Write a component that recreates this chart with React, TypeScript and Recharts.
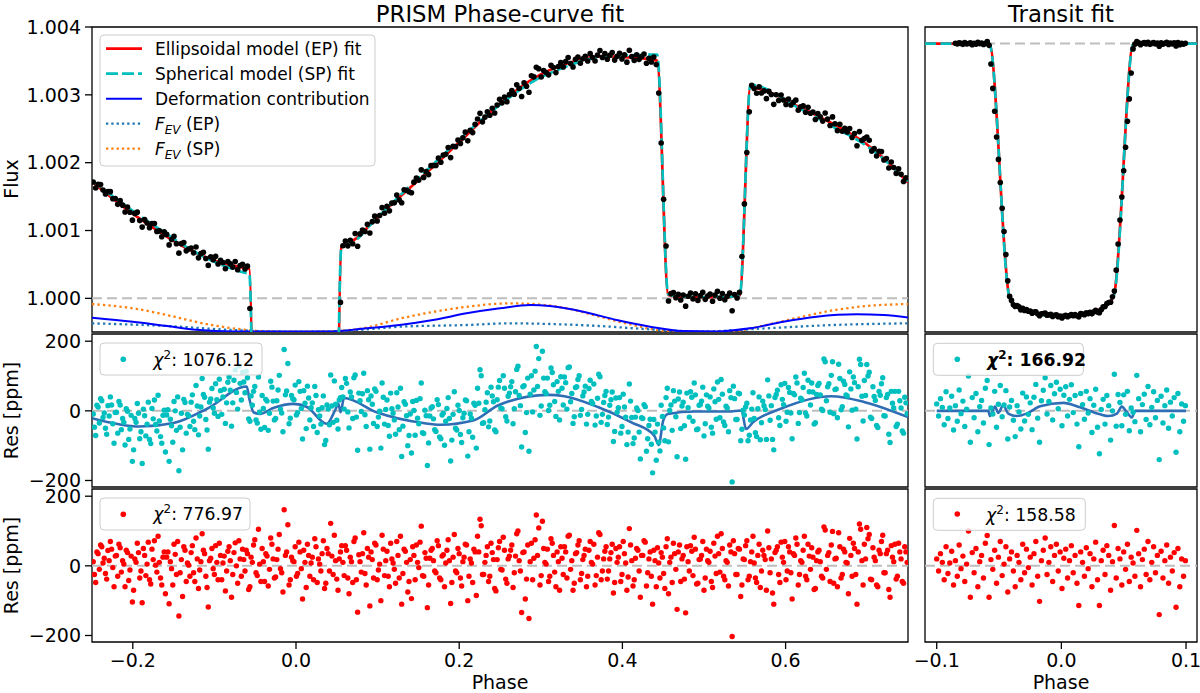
import React from 'react';
import { ComposedChart, Line, Scatter, XAxis, YAxis, ReferenceLine, ReferenceArea } from 'recharts';

const FONT = '"DejaVu Sans", "Liberation Sans", sans-serif';

// ---------- sampling cadence (phase) ----------
const PC_RES_START_A = -0.2485;
const PC_RES_START_B = -0.247;
const PC_RES_STEP = 0.003;
const PC_FLUX_START_A = -0.2485;
const PC_FLUX_START_B = -0.2455;
const PC_FLUX_STEP = 0.006;
const TR_START = -0.1;
const TR_STEP = 0.0015;
const TR_FLUX_START = -0.1 + 10 * 0.0015;

// ---------- axis ticks ----------
const PC_X_TICKS = [-0.2, 0, 0.2, 0.4, 0.6];
const TR_X_TICKS = [-0.1, 0, 0.1];
const FLUX_TICKS = [1.0, 1.001, 1.002, 1.003, 1.004];
const RES_TICKS = [-200, 0, 200];

// ---------- phase-curve residuals, EP fit (ppm) ----------
const RES_EP_PC_A = [
  12, -48, 35, 60, 8, -22, 44, 70, -5, 28,
  -30, 52, 15, -60, 38, -12, -104, 20, 65, -35,
  -106, 30, 5, -40, 48, 72, -18, 10, -55, 40,
  25, -109, -8, 62, -25, -144, 18, 55, -45, 2,
  38, -20, 80, -65, 12, 45, -30, -118, 22, -8,
  58, -40, 30, 8, -72, 42, 15, -25, 66, -50,
  20, 48, -15, 35, -60, 10, 75, -28, 5, 50,
  -45, 28, -10, 62, -35, 18, 90, -20, 161, 40,
  -55, 25, 12, -30, 68, -8, 45, -62, 30, 8,
  -40, 55, 20, -15, 72, -50, 35, 122, -25, 15,
  -70, 40, 10, 58, -35, 25, -48, 80, -133, 12,
  35, -22, 50, -115, 18, 65, -40, 5, 88, -28,
  42, -60, 20, -10, 70, -35, -110, 48, 10, -45,
  -94, 30, 60, -5, 114, -30, 22, -55, 45, 15,
  -20, 58, -40, 32, 8, 75, -108, 25, -15, 50,
  -35, 12, 62, -100, 20, -48, 40, 85, 134, -25,
  10, 55, -30, 38, -65, 18, 70, -12, 45, -50,
  28, 60, -20, 92, 15, -134, 40, -38, -151, 65,
  22, 146, 109, -28, 50, 5, -45, 78, 30, -60,
  12, 55, -25, 40, 85, -10, -70, 35, 60, -40,
  18, 48, -30, 70, 5, -55, 25, 90, -15, 42,
  -38, 20, 62, -48, 10, 55, -25, 35, -70, 107,
  15, -40, 50, -15, 30, 72, -58, 20, -30, 45,
  -60, 8, 38, -22, 55, -80, 25, 65, -10, 40,
  -45, 30, -135, 12, 58, -28, 48, -50, 20, 70,
  -35, 15, 42, -62, 28, 85, -18, 50, -40, 10,
  60, -203, 35, -25, 48, -55, 18, 72, -30, 40,
  8, -48, 62, -15, 30, -70, 52, 20, -110, 45,
  -25, 68, 10, -40, 55, -20, 35, 80, -55, 15,
  45, -30, 62, -10, 25, -65, 40, 12, -35, 103,
  30, -45, 99, 20, -60, 55, -25, 40, 8, 79,
  -30, 50, -110, 120, 15, 62, 110, 90, -40, 25,
  -55, 45, 70, -20, 35, -68, 58, 12, -38, 65,
  20, -50, 40,
];
const RES_EP_PC_B = [
  -25, 40, -10, 55, 22, -38, 15, 48, -60, 30,
  62, -18, 5, 45, -42, 28, -70, 10, 38, -15,
  50, -28, 68, -52, 18, 2, 85, -35, 25, -80,
  40, 12, -55, 33, 70, -20, -88, 45, 8, -30,
  58, -45, 20, -12, 92, 35, -62, 15, 50, -25,
  10, 65, -40, 28, -15, 55, -90, 38, 0, 72,
  -30, 18, 45, -68, 25, 60, -20, 105, -45, 12,
  35, -58, 80, 20, -32, 48, -8, -75, 30, 118,
  -40, 15, 55, -22, 40, -95, 10, 62, -30, 25,
  78, -48, 5, 35, -65, 50, -15, 28, 88, -38,
  20, 58, -28, 45, -80, 12, 70, -40, 32, -18,
  95, -55, 25, 40, -35, 60, -12, -100, 48, 15,
  -30, 65, 8, -50, 30, 85, -22, 42, -75, 18,
  55, -40, 10, 68, -28, 38, -120, 22, 50, -15,
  72, -35, 28, -60, 45, 15, -48, 90, -20, 35,
  -58, 25, 60, -30, 8, 48, -85, 40, 115, -25,
  30, -45, 65, 18, -72, 52, -10, 82, -38, 20,
  45, -62, 28, 100, -15, 38, -95, 60, 12, -40,
  75, 30, -55, 128, 10, 48, -30, 65, -18, 40,
  -70, 22, 55, -35, 88, 15, -50, 38, 72, -22,
  30, -60, 45, 10, 62, -28, 95, -40, 20, 55,
  -15, 38, -78, 50, 25, -45, 70, 8, -32, 60,
  -58, 22, 45, -90, 30, 68, -20, 40, -110, 15,
  52, -35, 25, -65, 78, 10, -48, 35, -125, 60,
  20, -38, 55, -15, 42, 82, -52, 18, 30, -70,
  48, 10, -45, 65, -22, 35, 92, -30, 15, -58,
  40, 72, -25, 50, -88, 20, 58, -40, 12, 85,
  -35, 30, -62, 45, 18, 100, -20, -78, 38, 55,
  -48, 25, 70, -15, 40, -95, 30, 62, -25, 10,
  85, -40, 28, 52, -68, 15, 45, -30, 112, -10,
  38, 60, -50, 22, 95, -35, 48, 10, -80, 30,
  65, -25, 40, 105, -55, 20, 78, -38, 52, 15,
  -60, 35, 88, -20, 45, -90, 25, 62, -30, 40,
  -45, 55, 10,
];

// ---------- phase-curve residuals, SP fit (ppm) ----------
const RES_SP_PC_A = [
  -9, -71, 11, 35, -19, -50, 15, 40, -37, -5,
  -64, 17, -22, -98, -1, -52, -145, -22, 21, -80,
  -151, -14, -38, -82, 7, 31, -58, -29, -93, 2,
  -12, -145, -43, 27, -56, -172, -7, 33, -64, -14,
  25, -30, 73, -69, 11, 47, -25, -110, 34, 8,
  78, -16, 58, 40, -36, 82, 59, 23, 117, 5,
  79, 111, 52, 95, -30, 16, 70, -35, -4, 44,
  -48, 28, -7, 68, -26, 29, 102, -6, 176, 57,
  -37, 44, 32, -12, 84, 7, 58, -51, 37, 9,
  -45, 44, 3, -38, 43, -85, 5, 103, -33, 19,
  -52, 38, 40, 93, -3, 54, -22, 103, -113, 29,
  49, -11, 58, -110, 19, 63, -45, -1, 80, -38,
  31, -73, 6, -26, 52, -54, -131, 26, -14, -71,
  -121, 1, 30, -37, 80, -65, -14, -92, 8, -23,
  -59, 18, -80, -7, -30, 38, -144, -10, -50, 16,
  -68, -20, 31, -130, -9, -76, 16, 65, 118, -36,
  3, 52, -29, 43, -55, 32, 87, 6, 65, -29,
  51, 84, 6, 119, 44, -104, 72, -5, -116, 101,
  60, 185, 150, 14, 94, 50, 1, 123, 75, -16,
  56, 98, 17, 81, 124, 26, -36, 67, 90, -13,
  43, 71, -10, 88, 21, -41, 36, 98, -10, 44,
  -39, 16, 54, -59, -4, 38, -45, 11, -97, 77,
  -19, -78, 8, -61, -20, 18, -116, -42, -96, -25,
  -142, -90, 16, -49, 38, -89, 17, 58, -17, 34,
  -51, 25, -139, 9, 55, -30, 46, -52, 18, 68,
  -37, 13, 40, -64, 26, 83, -20, 48, -42, 8,
  58, -204, 35, -25, 49, -53, -12, 22, -70, 5,
  -22, -74, 40, -34, 15, -82, 43, 15, -112, 47,
  -20, 75, 18, -30, 67, -6, 50, 97, -36, 36,
  67, -6, 88, 17, 54, -34, 73, 46, 1, 141,
  69, -4, 141, 61, -20, 93, 12, 76, 43, 112,
  2, 81, -81, 148, 42, 87, 133, 111, -22, 41,
  -42, 56, 78, -14, 38, -67, 56, 8, -45, 56,
  8, -64, 23,
];
const RES_SP_PC_B = [
  -47, 16, -35, 29, -6, -67, -15, 17, -93, -4,
  27, -54, -33, 6, -82, -13, -112, -33, -7, -60,
  5, -72, 25, -94, -23, -39, 45, -74, -13, -118,
  3, -24, -90, 0, 40, -47, -112, 24, -10, -45,
  46, -54, 14, -15, 93, 39, -55, 25, 64, -7,
  32, 91, -10, 62, 23, 97, -44, 88, 53, 129,
  31, 83, 114, -23, 43, 56, -26, 97, -53, 7,
  33, -56, 85, 28, -22, 60, 5, -60, 46, 136,
  -21, 35, 74, -5, 56, -81, 22, 71, -26, 23,
  70, -62, -15, 9, -97, 17, -40, 14, 86, -27,
  31, 67, 5, 79, -49, 40, 95, -18, 51, -2,
  108, -45, 32, 43, -36, 56, -18, -107, 39, 4,
  -42, 51, -7, -67, 11, 65, -44, 19, -100, -9,
  27, -70, -21, 35, -63, 2, -157, -15, 12, -54,
  32, -75, -12, -99, 7, -22, -84, 55, -55, 1,
  -91, -7, 29, -60, -21, 22, -107, 22, 101, -34,
  25, -46, 68, 26, -60, 68, 8, 101, -17, 42,
  69, -37, 55, 128, 15, 69, -62, 94, 48, -3,
  114, 70, -13, 171, 55, 94, 16, 110, 27, 84,
  -26, 65, 97, 5, 126, 50, -17, 69, 101, 4,
  54, -38, 64, 27, 77, -15, 105, -33, 24, 56,
  -18, 32, -88, 37, 9, -64, 48, -18, -61, 28,
  -94, -18, 1, -138, -22, 12, -80, -24, -178, -61,
  -38, -115, -16, -86, 65, 1, -56, 28, -132, 54,
  14, -43, 51, -18, 39, 80, -54, 16, 28, -72,
  46, 8, -47, 63, -24, 33, 90, -32, 13, -60,
  38, 71, -25, 51, -86, 2, 11, -86, -26, 52,
  -63, 6, -83, 28, 4, 89, -27, -82, 38, 59,
  -42, 33, 79, -4, 53, -80, 46, 80, -5, 32,
  108, -15, 55, 80, -38, 47, 79, 5, 149, 29,
  78, 102, -8, 63, 134, 3, 85, 46, -46, 63,
  97, 5, 69, 133, -29, 44, 100, -18, 69, 30,
  -48, 45, 95, -15, 47, -91, 22, 56, -38, 29,
  -58, 39, -8,
];

// ---------- phase-curve flux data (ppm above 1) ----------
const FLUX_PC_PPM_A: (number | null)[] = [
  1715, 1680, 1596, 1575, 1469, 1386, 1374, 1345, 1153, 1271,
  1050, 1111, 1103, 987, 907, 943, 867, 806, 806, 700,
  743, 756, 659, 588, 612, 619, 562, 437, 508, 544,
  483, 432, -150,
  null, null, null, null, null, null, null, null, null,
  null, null, null, null, null, null, null, null, null,
  775, 774, 804, 769, 1008, 1093, 1131, 1141, 1337,
  1358, 1404, 1522, 1409, 1594, 1556, 1775, 1894, 1868, 1956,
  1958, 2006, 2123, 2075, 2236, 2284, 2450, 2476, 2565, 2727,
  2671, 2700, 2733, 2936, 2966, 3003, 3009, 3098, 3177, 3039,
  3265, 3384, 3357, 3295, 3402, 3416, 3412, 3550, 3411, 3557,
  3531, 3499, 3550, 3586, 3552, 3526, 3623, 3568, 3530, 3482,
  3564, 3592, 3563, 3466, 3485, 3446, 2289, 771, 70, 10,
  -25, -115, 78, 68, 40, -15, 62, 48, 2, -20,
  80, 55, 88, 1392, 2749, 3093, 3118, 3058, 3051, 2860,
  2917, 2923, 2939, 2891, 2772, 2837, 2818, 2745, 2724, 2613,
  2642, 2675, 2472, 2464, 2454, 2372, 2249, 2331, 2379, 2171,
  2098, 2165, 2060, 2011, 1842, 1828, 1776,
];
const FLUX_PC_PPM_B: (number | null)[] = [
  1626, 1677, 1538, 1573, 1473, 1440, 1273, 1270, 1252, 1146,
  1161, 1041, 1102, 994, 980, 788, 915, 666, 822, 727,
  671, 597, 678, 486, 568, 507, 529, 543, 461, 421,
  503, 475,
  null, null, null, null, null, null, null, null, null,
  null, null, null, null, null, null, null, null, null,
  -60, 845, 856, 957, 950, 986, 963, 1212, 1220, 1255,
  1290, 1408, 1451, 1600, 1572, 1713, 1743, 1783, 1824, 1960,
  2070, 2113, 2224, 2242, 2335, 2366, 2322, 2443, 2644, 2602,
  2751, 2802, 2850, 2882, 2898, 3062, 3148, 2976, 3126, 3282,
  3405, 3263, 3329, 3434, 3328, 3476, 3491, 3463, 3524, 3465,
  3569, 3607, 3498, 3654, 3608, 3583, 3512, 3612, 3589, 3658,
  3506, 3523, 3601, 3540, 3556, 3027, 1461, -40, 85, 60,
  50, 32, -8, -30, 90, 35, -42, 105, 70, 30,
  -183, 5, 617, 2149, 3140, 3023, 3027, 2944, 3005, 3001,
  2996, 2859, 2850, 2922, 2825, 2744, 2728, 2637, 2678, 2733,
  2549, 2574, 2566, 2508, 2503, 2431, 2458, 2355, 2330, 2207,
  2169, 2040, 1921, 1929, 1909, 1722,
];

// ---------- transit residuals (ppm) ----------
const RES_EP_TR = [
  20, -15, 35, 10, -40, 55, -22, 8, 42, -55,
  15, -30, 60, -8, 28, -45, 5, 100, -90, 38,
  -20, 50, -60, 12, 30, -35, 65, 87, -90, 18,
  -10, 45, -50, 25, 70, -28, 5, 55, -75, 20,
  40, -15, -60, 30, 10, -40, 62, -20, 48, -5,
  25, -55, 35, 70, -30, -102, 15, 45, 80, -25,
  10, 55, -45, 30, 62, -15, 40, -65, 22, 48,
  -35, 15, 58, -20, 30, -50, -114, 40, 10, -30,
  52, -8, 35, -60, 20, 68, -40, -114, 15, 45,
  -25, 58, 30, -70, 12, 116, -35, 50, 20, -55,
  40, -10, 62, -45, 25, 8, -30, 102, 35, -60,
  18, 48, -25, 70, -40, 10, 55, -20, 30, -140,
  42, -35, 15, 60, -50, 25, -15, 38, -119, 50,
  -60, 20, -30, 15,
];
const RES_SP_TR = [
  20, -15, 35, 10, -40, 55, -22, 8, 42, -55,
  15, -30, 60, -8, 28, -45, 5, 100, -90, 38,
  -20, 50, -60, 12, 30, -35, 65, 87, -97, 8,
  -9, 56, -47, 19, 73, -17, 17, 58, -81, 11,
  30, -27, -74, 15, -3, -52, 51, -29, 40, -10,
  23, -54, 39, 76, -21, -90, 29, 59, 95, -9,
  27, 73, -26, 49, 82, 6, 62, -43, 45, 69,
  -15, 33, 75, -5, 44, -38, -103, 50, 18, -24,
  56, -6, 35, -62, 16, 62, -47, -123, 4, 33,
  -38, 44, 15, -84, 0, 105, -44, 47, 24, -43,
  46, -10, 56, -57, 8, -4, -31, 102, 35, -60,
  18, 48, -25, 70, -40, 10, 55, -20, 30, -140,
  42, -35, 15, 60, -50, 25, -15, 38, -119, 50,
  -60, 20, -30, 15,
];

// ---------- transit flux data (ppm relative to 1) ----------
const FLUX_TR_PPM = [
  20, -15, 35, 10, -40, 55, -22, 8, 42, -55,
  15, -30, 60, -8, 28, -45, 5, 100, -90, -1043,
  -2296, -3466, -4786, -5935, -7115, -8438, -9630, -10805, -12159, -12955,
  -13160, -13385, -13470, -13420, -13490, -13650, -13568, -13680, -13632, -13715,
  -13705, -13815, -13755, -13740, -13860, -13942, -13845, -13835, -13810, -13925,
  -13900, -13875, -13985, -13920, -13898, -13995, -13960, -14065, -13958, -13922,
  -13995, -13935, -13882, -13950, -13890, -13950, -14004, -13840, -13860, -13890,
  -13798, -13838, -13775, -13850, -13740, -13672, -13750, -13794, -13635, -13495,
  -13475, -13322, -13270, -13250, -12978, -12684, -11610, -10270, -9045, -7865,
  -6515, -5310, -3983, -2835, -1510, -272, -30,
  102, 35, -60, 18, 48, -25, 70, -40, 10, 55,
  -20, 30, -140, 42, -35, 15, 60, -50, 25, -15,
  38, -119, 50, -60, 20, -30, 15,
];

// ---------- phase-curve models (ppm above 1) ----------
const EP_PH = [-0.25, -0.2115, -0.1706, -0.1298, -0.089, -0.0604, -0.0572, -0.0415, 0, 0.0395, 0.0555, 0.074, 0.0906, 0.1274, 0.168, 0.209, 0.25, 0.291, 0.332, 0.372, 0.413, 0.4426, 0.4561, 0.47, 0.5, 0.53, 0.5438, 0.5569, 0.6165, 0.6573, 0.6981, 0.7185, 0.75];
const EP_PPM = [1717, 1349, 1006, 711, 515, 442, 435, -13200, -14000, -13200, 751, 884, 1080, 1496, 1938, 2405, 2872, 3240, 3461, 3568, 3549, 3505, 50, 22, 18, 22, 40, 3107, 2822, 2577, 2283, 2085, 1706];
const SP_PPM = [1738, 1389, 1046, 726, 483, 372, 365, -13200, -14000, -13200, 731, 863, 1075, 1516, 1976, 2436, 2855, 3200, 3421, 3558, 3584, 3593, 59, 24, 20, 24, 40, 3147, 2803, 2535, 2258, 2071, 1724];

const DEF_PH = [-0.25, -0.2, -0.158, -0.118, -0.077, -0.04, 0.04, 0.0866, 0.127, 0.168, 0.209, 0.25, 0.287, 0.311, 0.352, 0.393, 0.434, 0.474, 0.515, 0.556, 0.597, 0.638, 0.687, 0.72, 0.75];
const DEF_PPM = [-286, -345, -408, -467, -488, -490, -490, -442, -393, -320, -221, -147, -99, -113, -197, -320, -418, -482, -488, -442, -345, -271, -236, -246, -282];

const FEV_EP_PH = [-0.25, -0.158, -0.077, -0.036, 0, 0.04, 0.087, 0.127, 0.209, 0.262, 0.311, 0.372, 0.434, 0.495, 0.576, 0.658, 0.75];
const FEV_EP_PPM = [-368, -408, -467, -486, -490, -486, -457, -418, -393, -368, -378, -408, -457, -488, -442, -393, -368];

const FEV_SP_PH = [-0.25, -0.2, -0.158, -0.118, -0.077, -0.036, 0, 0.04, 0.087, 0.127, 0.168, 0.209, 0.262, 0.291, 0.332, 0.372, 0.413, 0.454, 0.495, 0.535, 0.576, 0.617, 0.658, 0.699, 0.75];
const FEV_SP_PPM = [-84, -147, -246, -359, -442, -486, -492, -486, -430, -300, -200, -125, -74, -84, -147, -270, -393, -482, -492, -482, -393, -280, -177, -113, -84];

// EP - SP model difference shown over the SP residuals (ppm)
const DIFF_PH = [-0.25, -0.191, -0.15, -0.109, -0.0604, -0.0572, -0.052, -0.044, -0.028, -0.003, 0.0135, 0.0376, 0.0478, 0.0519, 0.0547, 0.0588, 0.0988, 0.156, 0.177, 0.217, 0.248, 0.3086, 0.329, 0.37, 0.411, 0.439, 0.4446, 0.45, 0.4556, 0.489, 0.53, 0.546, 0.5515, 0.56, 0.594, 0.656, 0.697, 0.75];
const DIFF_PPM = [-21, -45, -35, 6, 70, 35, -4, -9, 8, 20, 11, -37, 1, 20, -4, 37, -4, -35, -40, -28, 16, 46, 42, 11, -33, -71, -98, -28, -9, -2, -2, 1, -52, -33, 6, 42, 25, -18];

// ---------- transit models (ppm relative to 1) ----------
const TR_PH = [-0.1094, -0.0578, -0.042, -0.039, -0.033, -0.02, 0, 0.02, 0.033, 0.039, 0.0425, 0.0578, 0.1088];
const TR_EP_PPM = [0, 0, -12900, -13350, -13600, -13820, -14000, -13850, -13550, -13250, -12800, 0, 0];
const TR_SP_PPM = [0, 0, -12895, -13340, -13590, -13830, -14020, -13860, -13540, -13240, -12805, 0, 0];

const TR_DIFF_PH = [-0.1, -0.0586, -0.0573, -0.0533, -0.0506, -0.0466, -0.0426, -0.0359, -0.0279, -0.0171, 0.0016, 0.015, 0.0311, 0.0378, 0.0445, 0.0485, 0.0525, 0.0565, 0.0592, 0.1];
const TR_DIFF_PPM = [0, 0, -15, 12, -6, 16, -8, -15, -8, 13, 23, 10, -10, -15, -8, 12, -4, -19, 0, 0];

// ---------- helpers ----------
type Pt = { x: number; y: number };
const flux = (ppm: number) => 1 + ppm / 1e6;
const ident = (v: number) => v;
const fromGrid = (start: number, step: number, vals: (number | null)[], f = ident): Pt[] =>
  vals.flatMap((v, i) => (v == null ? [] : [{ x: +(start + step * i).toFixed(5), y: f(v) }]));
const fromKnots = (xs: number[], ys: number[], f = ident): Pt[] => xs.map((x, i) => ({ x, y: f(ys[i]) }));

const fmtPhase = (v: number) => (v < 0 ? '\u2212' : '') + Math.abs(v).toFixed(1);
const fmtFlux = (v: number) => v.toFixed(3);
const fmtRes = (v: number) => (v < 0 ? '\u2212' : '') + Math.abs(v).toFixed(0);

const dot = (color: string, r = 2.7) => (p: any) =>
  p == null || p.cx == null ? <g /> : <circle cx={p.cx} cy={p.cy} r={r} fill={color} />;

const PC_X: [number, number] = [-0.25, 0.75];
const TR_X: [number, number] = [-0.1094, 0.1088];
const PC_FLUX_Y: [number, number] = [0.999504, 1.004];
const TR_FLUX_Y: [number, number] = [0.98522, 1.00085];
const RES_Y: [number, number] = [-218.7, 220.7];

const GRAY = '#bdbdbd';
const CYAN = '#00bfbf';

type PanelProps = {
  x: number; y: number; w: number; h: number;
  xDomain: [number, number]; yDomain: [number, number];
  xTicks: number[]; yTicks?: number[]; yFmt?: (v: number) => string;
  xLabels: boolean; children: React.ReactNode;
};

function Panel({ x, y, w, h, xDomain, yDomain, xTicks, yTicks, yFmt, xLabels, children }: PanelProps) {
  const mt = 12;
  const ml = yTicks ? 3 : 22;
  const mr = 22;
  const yw = yTicks ? 92 : 0;
  const xh = xLabels ? 40 : 10;
  const W = ml + yw + w + mr;
  const H = mt + h + xh;
  const tickStyle = { fill: '#000', fontSize: 19, fontFamily: FONT };
  return (
    <div style={{ position: 'absolute', left: x - ml - yw, top: y - mt, width: W, height: H }}>
      <ComposedChart width={W} height={H} margin={{ top: mt, right: mr, bottom: 0, left: ml }}>
        <XAxis
          type="number" dataKey="x" domain={xDomain} allowDataOverflow ticks={xTicks} interval={0}
          height={xh} axisLine={false} tickLine={{ stroke: '#000', strokeWidth: 1.3 }} tickSize={7} tickMargin={5}
          tick={xLabels ? tickStyle : false} tickFormatter={fmtPhase}
        />
        <YAxis
          type="number" dataKey="y" domain={yDomain} allowDataOverflow hide={!yTicks} ticks={yTicks} interval={0}
          width={yw} axisLine={false} tickLine={{ stroke: '#000', strokeWidth: 1.3 }} tickSize={7} tickMargin={4}
          tick={tickStyle} tickFormatter={yFmt}
        />
        {children}
        <ReferenceArea x1={xDomain[0]} x2={xDomain[1]} y1={yDomain[0]} y2={yDomain[1]} fill="none" fillOpacity={0} stroke="#000" strokeWidth={1.3} />
      </ComposedChart>
    </div>
  );
}

const lineProps = { dot: false, activeDot: false, isAnimationActive: false, type: 'monotone' as const, dataKey: 'y' };

export default function App() {
  const pcFlux = [
    ...fromGrid(PC_FLUX_START_A, PC_FLUX_STEP, FLUX_PC_PPM_A, flux),
    ...fromGrid(PC_FLUX_START_B, PC_FLUX_STEP, FLUX_PC_PPM_B, flux),
  ];
  const pcEP = fromKnots(EP_PH, EP_PPM, flux);
  const pcSP = fromKnots(EP_PH, SP_PPM, flux);
  const pcDef = fromKnots(DEF_PH, DEF_PPM, flux);
  const pcFevEP = fromKnots(FEV_EP_PH, FEV_EP_PPM, flux);
  const pcFevSP = fromKnots(FEV_SP_PH, FEV_SP_PPM, flux);
  const pcResSP = [
    ...fromGrid(PC_RES_START_A, PC_RES_STEP, RES_SP_PC_A),
    ...fromGrid(PC_RES_START_B, PC_RES_STEP, RES_SP_PC_B),
  ];
  const pcResEP = [
    ...fromGrid(PC_RES_START_A, PC_RES_STEP, RES_EP_PC_A),
    ...fromGrid(PC_RES_START_B, PC_RES_STEP, RES_EP_PC_B),
  ];
  const pcDiff = fromKnots(DIFF_PH, DIFF_PPM);

  const trFlux = fromGrid(TR_FLUX_START, TR_STEP, FLUX_TR_PPM, flux);
  const trEP = fromKnots(TR_PH, TR_EP_PPM, flux);
  const trSP = fromKnots(TR_PH, TR_SP_PPM, flux);
  const trResSP = fromGrid(TR_START, TR_STEP, RES_SP_TR);
  const trResEP = fromGrid(TR_START, TR_STEP, RES_EP_TR);
  const trDiff = fromKnots(TR_DIFF_PH, TR_DIFF_PPM);

  const legendRows = [48.7, 73.7, 98.7, 123.7, 148.7];

  return (
    <div style={{ position: 'absolute', left: 0, top: 0, width: 1200, height: 693, background: '#fff', overflow: 'hidden', fontFamily: FONT }}>
      {/* Top-left: phase curve */}
      <Panel x={92} y={27} w={816} h={305} xDomain={PC_X} yDomain={PC_FLUX_Y} xTicks={PC_X_TICKS} yTicks={FLUX_TICKS} yFmt={fmtFlux} xLabels={false}>
        <ReferenceLine y={1} stroke={GRAY} strokeWidth={2} strokeDasharray="10 5" />
        <Line data={pcFevSP} {...lineProps} stroke="#ff7f0e" strokeWidth={2.3} strokeDasharray="2.3 3.2" />
        <Line data={pcFevEP} {...lineProps} stroke="#1f77b4" strokeWidth={2.3} strokeDasharray="2.3 3.2" />
        <Line data={pcDef} {...lineProps} stroke="#0000ff" strokeWidth={2} />
        <Scatter data={pcFlux} fill="#000" shape={dot('#000', 2.8)} isAnimationActive={false} />
        <Line data={pcEP} {...lineProps} stroke="#ff0000" strokeWidth={2.7} />
        <Line data={pcSP} {...lineProps} stroke={CYAN} strokeWidth={2.7} strokeDasharray="11 4.5" />
      </Panel>

      {/* Top-right: transit */}
      <Panel x={925} y={27} w={272} h={305} xDomain={TR_X} yDomain={TR_FLUX_Y} xTicks={TR_X_TICKS} xLabels={false}>
        <ReferenceLine y={1} stroke={GRAY} strokeWidth={2} strokeDasharray="10 5" />
        <Scatter data={trFlux} fill="#000" shape={dot('#000', 2.8)} isAnimationActive={false} />
        <Line data={trEP} {...lineProps} stroke="#ff0000" strokeWidth={2.7} />
        <Line data={trSP} {...lineProps} stroke={CYAN} strokeWidth={2.7} strokeDasharray="11 4.5" />
      </Panel>

      {/* Middle-left: SP residuals */}
      <Panel x={92} y={334} w={816} h={153} xDomain={PC_X} yDomain={RES_Y} xTicks={PC_X_TICKS} yTicks={RES_TICKS} yFmt={fmtRes} xLabels={false}>
        <Scatter data={pcResSP} fill={CYAN} shape={dot(CYAN)} isAnimationActive={false} />
        <ReferenceLine y={0} stroke={GRAY} strokeWidth={2} strokeDasharray="10 5" />
        <Line data={pcDiff} {...lineProps} stroke="#2f6db5" strokeWidth={2.6} />
      </Panel>

      {/* Middle-right: SP residuals (transit) */}
      <Panel x={925} y={334} w={272} h={153} xDomain={TR_X} yDomain={RES_Y} xTicks={TR_X_TICKS} xLabels={false}>
        <Scatter data={trResSP} fill={CYAN} shape={dot(CYAN)} isAnimationActive={false} />
        <ReferenceLine y={0} stroke={GRAY} strokeWidth={2} strokeDasharray="10 5" />
        <Line data={trDiff} {...lineProps} stroke="#2f6db5" strokeWidth={2.6} />
      </Panel>

      {/* Bottom-left: EP residuals */}
      <Panel x={92} y={489} w={816} h={153} xDomain={PC_X} yDomain={RES_Y} xTicks={PC_X_TICKS} yTicks={RES_TICKS} yFmt={fmtRes} xLabels>
        <Scatter data={pcResEP} fill="#ff0000" shape={dot('#ff0000')} isAnimationActive={false} />
        <ReferenceLine y={0} stroke={GRAY} strokeWidth={2} strokeDasharray="10 5" />
      </Panel>

      {/* Bottom-right: EP residuals (transit) */}
      <Panel x={925} y={489} w={272} h={153} xDomain={TR_X} yDomain={RES_Y} xTicks={TR_X_TICKS} xLabels>
        <Scatter data={trResEP} fill="#ff0000" shape={dot('#ff0000')} isAnimationActive={false} />
        <ReferenceLine y={0} stroke={GRAY} strokeWidth={2} strokeDasharray="10 5" />
      </Panel>

      {/* Text overlay: titles, axis labels, legends */}
      <svg width={1200} height={693} style={{ position: 'absolute', left: 0, top: 0, pointerEvents: 'none' }} fontFamily={FONT}>
        <text x={500} y={21.5} fontSize={22.8} textAnchor="middle" fill="#000">PRISM Phase-curve fit</text>
        <text x={1061} y={21.5} fontSize={22.8} textAnchor="middle" fill="#000">Transit fit</text>

        <text x={500} y={689} fontSize={19} textAnchor="middle" fill="#000">Phase</text>
        <text x={1061} y={689} fontSize={19} textAnchor="middle" fill="#000">Phase</text>
        <text transform="translate(18,179) rotate(-90)" fontSize={19} textAnchor="middle" fill="#000">Flux</text>
        <text transform="translate(18,410.5) rotate(-90)" fontSize={19} textAnchor="middle" fill="#000">Res [ppm]</text>
        <text transform="translate(18,565.5) rotate(-90)" fontSize={19} textAnchor="middle" fill="#000">Res [ppm]</text>

        {/* main legend */}
        <rect x={100} y={35} width={275} height={131} rx={4} fill="#fff" fillOpacity={0.8} stroke="#cccccc" strokeWidth={1} />
        <line x1={106} x2={142} y1={legendRows[0]} y2={legendRows[0]} stroke="#ff0000" strokeWidth={2.7} />
        <line x1={106} x2={142} y1={legendRows[1]} y2={legendRows[1]} stroke={CYAN} strokeWidth={2.7} strokeDasharray="12 4" />
        <line x1={106} x2={142} y1={legendRows[2]} y2={legendRows[2]} stroke="#0000ff" strokeWidth={2} />
        <line x1={106} x2={142} y1={legendRows[3]} y2={legendRows[3]} stroke="#1f77b4" strokeWidth={2.3} strokeDasharray="2.3 3" />
        <line x1={106} x2={142} y1={legendRows[4]} y2={legendRows[4]} stroke="#ff7f0e" strokeWidth={2.3} strokeDasharray="2.3 3" />
        <text x={155} y={legendRows[0] + 6} fontSize={17} fill="#000">Ellipsoidal model (EP) fit</text>
        <text x={155} y={legendRows[1] + 6} fontSize={17} fill="#000">Spherical model (SP) fit</text>
        <text x={155} y={legendRows[2] + 6} fontSize={17} fill="#000">Deformation contribution</text>
        <text x={155} y={legendRows[3] + 6} fontSize={17} fill="#000">
          <tspan fontStyle="italic">F</tspan>
          <tspan fontStyle="italic" fontSize={12} dy={4}>EV</tspan>
          <tspan dy={-4}>{' (EP)'}</tspan>
        </text>
        <text x={155} y={legendRows[4] + 6} fontSize={17} fill="#000">
          <tspan fontStyle="italic">F</tspan>
          <tspan fontStyle="italic" fontSize={12} dy={4}>EV</tspan>
          <tspan dy={-4}>{' (SP)'}</tspan>
        </text>

        {/* residual legends */}
        <rect x={100} y={343} width={162} height={32} rx={4} fill="#fff" fillOpacity={0.8} stroke="#cccccc" strokeWidth={1} />
        <circle cx={123.3} cy={359.3} r={2.8} fill={CYAN} />
        <text x={153.3} y={365.5} fontSize={17.3} fill="#000">
          <tspan fontStyle="italic">χ</tspan>
          <tspan fontSize={12} dy={-7}>2</tspan>
          <tspan dy={7}>: 1076.12</tspan>
        </text>

        <rect x={100} y={498} width={150} height={32} rx={4} fill="#fff" fillOpacity={0.8} stroke="#cccccc" strokeWidth={1} />
        <circle cx={123.3} cy={514.3} r={2.8} fill="#ff0000" />
        <text x={153.3} y={520.3} fontSize={17.3} fill="#000">
          <tspan fontStyle="italic">χ</tspan>
          <tspan fontSize={12} dy={-7}>2</tspan>
          <tspan dy={7}>: 776.97</tspan>
        </text>

        <rect x={933.3} y={343.3} width={150} height={32} rx={4} fill="#fff" fillOpacity={0.8} stroke="#cccccc" strokeWidth={1} />
        <circle cx={957.3} cy={359.3} r={2.8} fill={CYAN} />
        <text x={987} y={366} fontSize={17.3} fill="#000" fontWeight="bold">
          <tspan fontStyle="italic">χ</tspan>
          <tspan fontSize={12} dy={-7}>2</tspan>
          <tspan dy={7}>: 166.92</tspan>
        </text>

        <rect x={933.3} y={498.3} width={152} height={32} rx={4} fill="#fff" fillOpacity={0.8} stroke="#cccccc" strokeWidth={1} />
        <circle cx={957.3} cy={514} r={2.8} fill="#ff0000" />
        <text x={986} y={520.7} fontSize={17.3} fill="#000">
          <tspan fontStyle="italic">χ</tspan>
          <tspan fontSize={12} dy={-7}>2</tspan>
          <tspan dy={7}>: 158.58</tspan>
        </text>
      </svg>
    </div>
  );
}
